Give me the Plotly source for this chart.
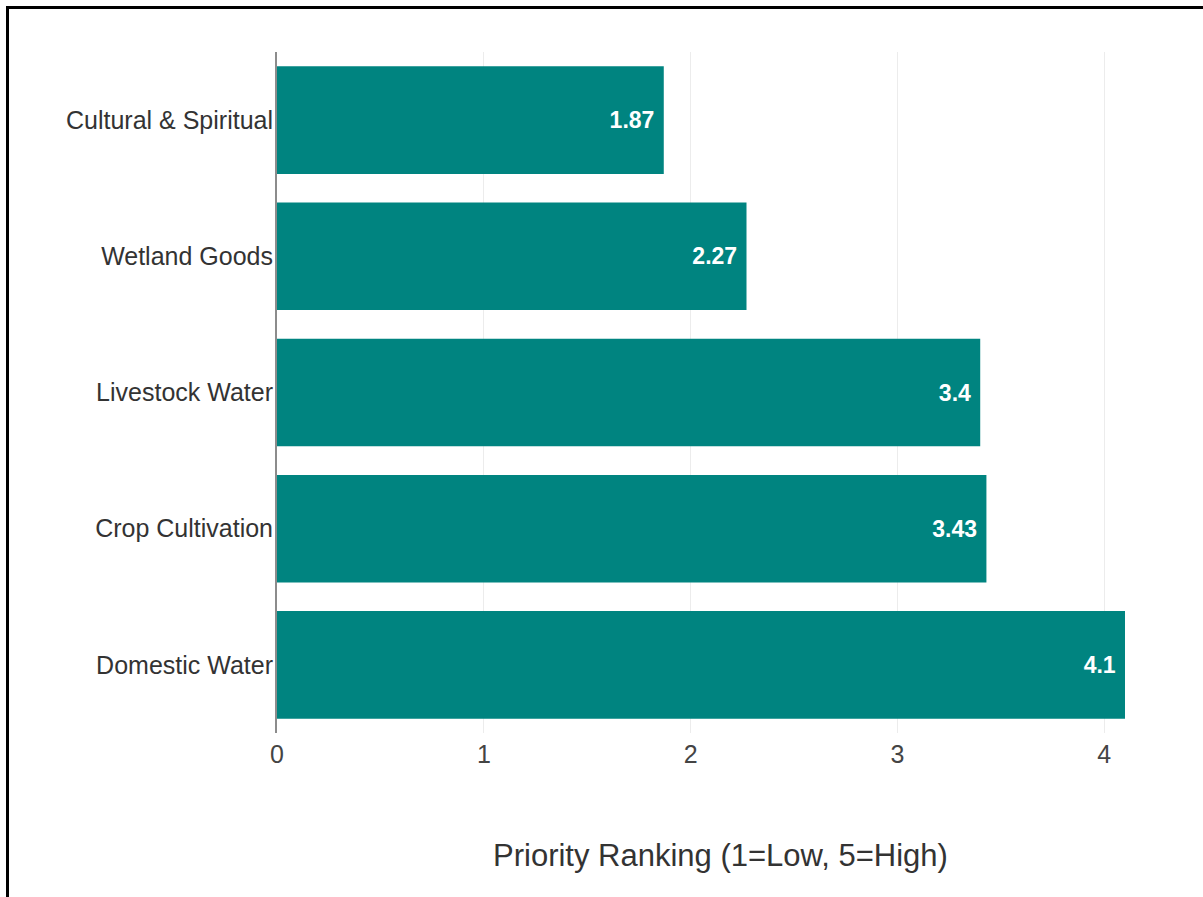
import plotly.graph_objects as go

# Survey results: mean priority ranking per wetland use
categories = [
    "Cultural & Spiritual",
    "Wetland Goods",
    "Livestock Water",
    "Crop Cultivation",
    "Domestic Water",
]
scores = [1.87, 2.27, 3.4, 3.43, 4.1]
x_ticks = [0, 1, 2, 3, 4]

W, H = 1203, 897
M_L, M_R, M_T, M_B = 277, 78, 52, 164
PLOT_W = W - M_L - M_R
PLOT_H = H - M_T - M_B


def px_to_paper_x(px):
    return (px - M_L) / PLOT_W


def px_to_paper_y(py):
    return (H - M_B - py) / PLOT_H


FONT = "Liberation Sans, Arial, sans-serif"
BAR_COLOR = "#008480"

fig = go.Figure(
    go.Bar(
        x=scores,
        y=categories,
        orientation="h",
        marker=dict(color=BAR_COLOR, line=dict(width=0)),
        # trailing no-break space keeps the value a little off the bar end
        text=[f"{v:g}\u00a0" for v in scores],
        textposition="inside",
        insidetextanchor="end",
        textfont=dict(family=FONT, size=23, color="white", weight="bold"),
        cliponaxis=False,
        hoverinfo="x+y",
    )
)

fig.update_layout(
    width=W,
    height=H,
    margin=dict(l=M_L, r=M_R, t=M_T, b=M_B, pad=0),
    paper_bgcolor="white",
    plot_bgcolor="white",
    bargap=0.21,
    showlegend=False,
    font=dict(family=FONT, color="#333333"),
    xaxis=dict(
        range=[0, 4.1],
        tickvals=x_ticks,
        ticktext=[str(t) for t in x_ticks],
        showgrid=True,
        gridcolor="#ececec",
        gridwidth=1,
        zeroline=False,
        showline=False,
        ticks="",
        ticklabelstandoff=4,
        tickfont=dict(size=25, color="#444444"),
    ),
    yaxis=dict(
        autorange="reversed",
        showgrid=False,
        zeroline=False,
        showline=True,
        linecolor="#8c8c8c",
        linewidth=2,
        ticks="",
        ticklabelstandoff=-3,
        tickfont=dict(size=25, color="#333333"),
    ),
    annotations=[
        dict(
            text="Priority Ranking (1=Low, 5=High)",
            xref="paper",
            yref="paper",
            x=px_to_paper_x(720),
            y=px_to_paper_y(855),
            xanchor="center",
            yanchor="middle",
            showarrow=False,
            font=dict(size=31, color="#333333", family=FONT),
        )
    ],
    shapes=[
        # frame lines along the top and left of the page
        dict(
            type="line", xref="paper", yref="paper",
            x0=px_to_paper_x(7.5), x1=px_to_paper_x(W + 5),
            y0=px_to_paper_y(7.5), y1=px_to_paper_y(7.5),
            line=dict(color="black", width=3),
        ),
        dict(
            type="line", xref="paper", yref="paper",
            x0=px_to_paper_x(7.5), x1=px_to_paper_x(7.5),
            y0=px_to_paper_y(6), y1=px_to_paper_y(H + 5),
            line=dict(color="black", width=3),
        ),
    ],
)

fig.write_html("out.html")
